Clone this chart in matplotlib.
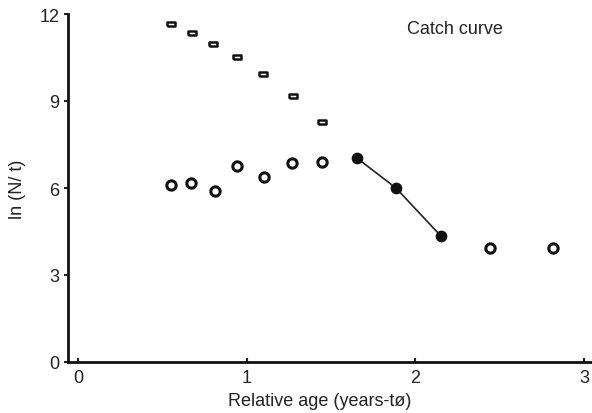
import matplotlib.pyplot as plt

plt.rcParams["font.family"] = ["Liberation Sans", "DejaVu Sans"]

# upper series (open rectangles)
age_sq = [0.551, 0.676, 0.800, 0.942, 1.097, 1.274, 1.446]
lnN_sq = [11.66, 11.34, 10.97, 10.52, 9.93, 9.17, 8.28]

# lower series (open circles)
age_open = [0.551, 0.670, 0.812, 0.942, 1.103, 1.269, 1.446, 2.442, 2.816]
lnN_open = [6.10, 6.17, 5.90, 6.76, 6.38, 6.86, 6.90, 3.93, 3.93]

# points used for the catch curve regression (filled circles)
age_fit = [1.654, 1.885, 2.152]
lnN_fit = [7.03, 6.00, 4.34]

x_ticks = [0, 1, 2, 3]
y_ticks = [0, 3, 6, 9, 12]

# flat rectangle marker
rect = [(-1.0, -0.6), (1.0, -0.6), (1.0, 0.6), (-1.0, 0.6), (-1.0, -0.6)]

fig = plt.figure(figsize=(5.92, 4.14), dpi=100)
ax = fig.add_axes([68 / 592, 51 / 414, 524 / 592, 348 / 414])

ax.scatter(age_sq, lnN_sq, marker=rect, s=34, facecolors="white",
           edgecolors="#111111", linewidths=1.8, zorder=3)
ax.scatter(age_open, lnN_open, marker="o", s=45, facecolors="white",
           edgecolors="#111111", linewidths=2.2, zorder=3)
ax.plot(age_fit, lnN_fit, color="#222222", linewidth=1.2, zorder=2)
ax.scatter(age_fit, lnN_fit, marker="o", s=55, color="#111111", zorder=3)

ax.text(2.235, 11.5, "Catch curve", fontsize=13, ha="center", va="center", color="#222222")

ax.set_xlim(-0.059, 3.047)
ax.set_ylim(0, 12)
ax.set_xticks(x_ticks)
ax.set_yticks(y_ticks)
ax.tick_params(axis="both", labelsize=13, colors="#222222", width=1.5)
ax.tick_params(axis="y", direction="out", length=3, pad=3)
ax.tick_params(axis="x", direction="in", length=3, pad=5)
for side in ["top", "right"]:
    ax.spines[side].set_visible(False)
for side in ["left", "bottom"]:
    ax.spines[side].set_linewidth(2.0)
    ax.spines[side].set_color("#111111")

ax.set_xlabel("Relative age (years-tø)", fontsize=13, color="#222222")
ax.xaxis.set_label_coords(0.48, -0.085)
ax.set_ylabel("ln (N/ t)", fontsize=13, color="#222222", labelpad=10)

fig.savefig("out.png", dpi=100)
